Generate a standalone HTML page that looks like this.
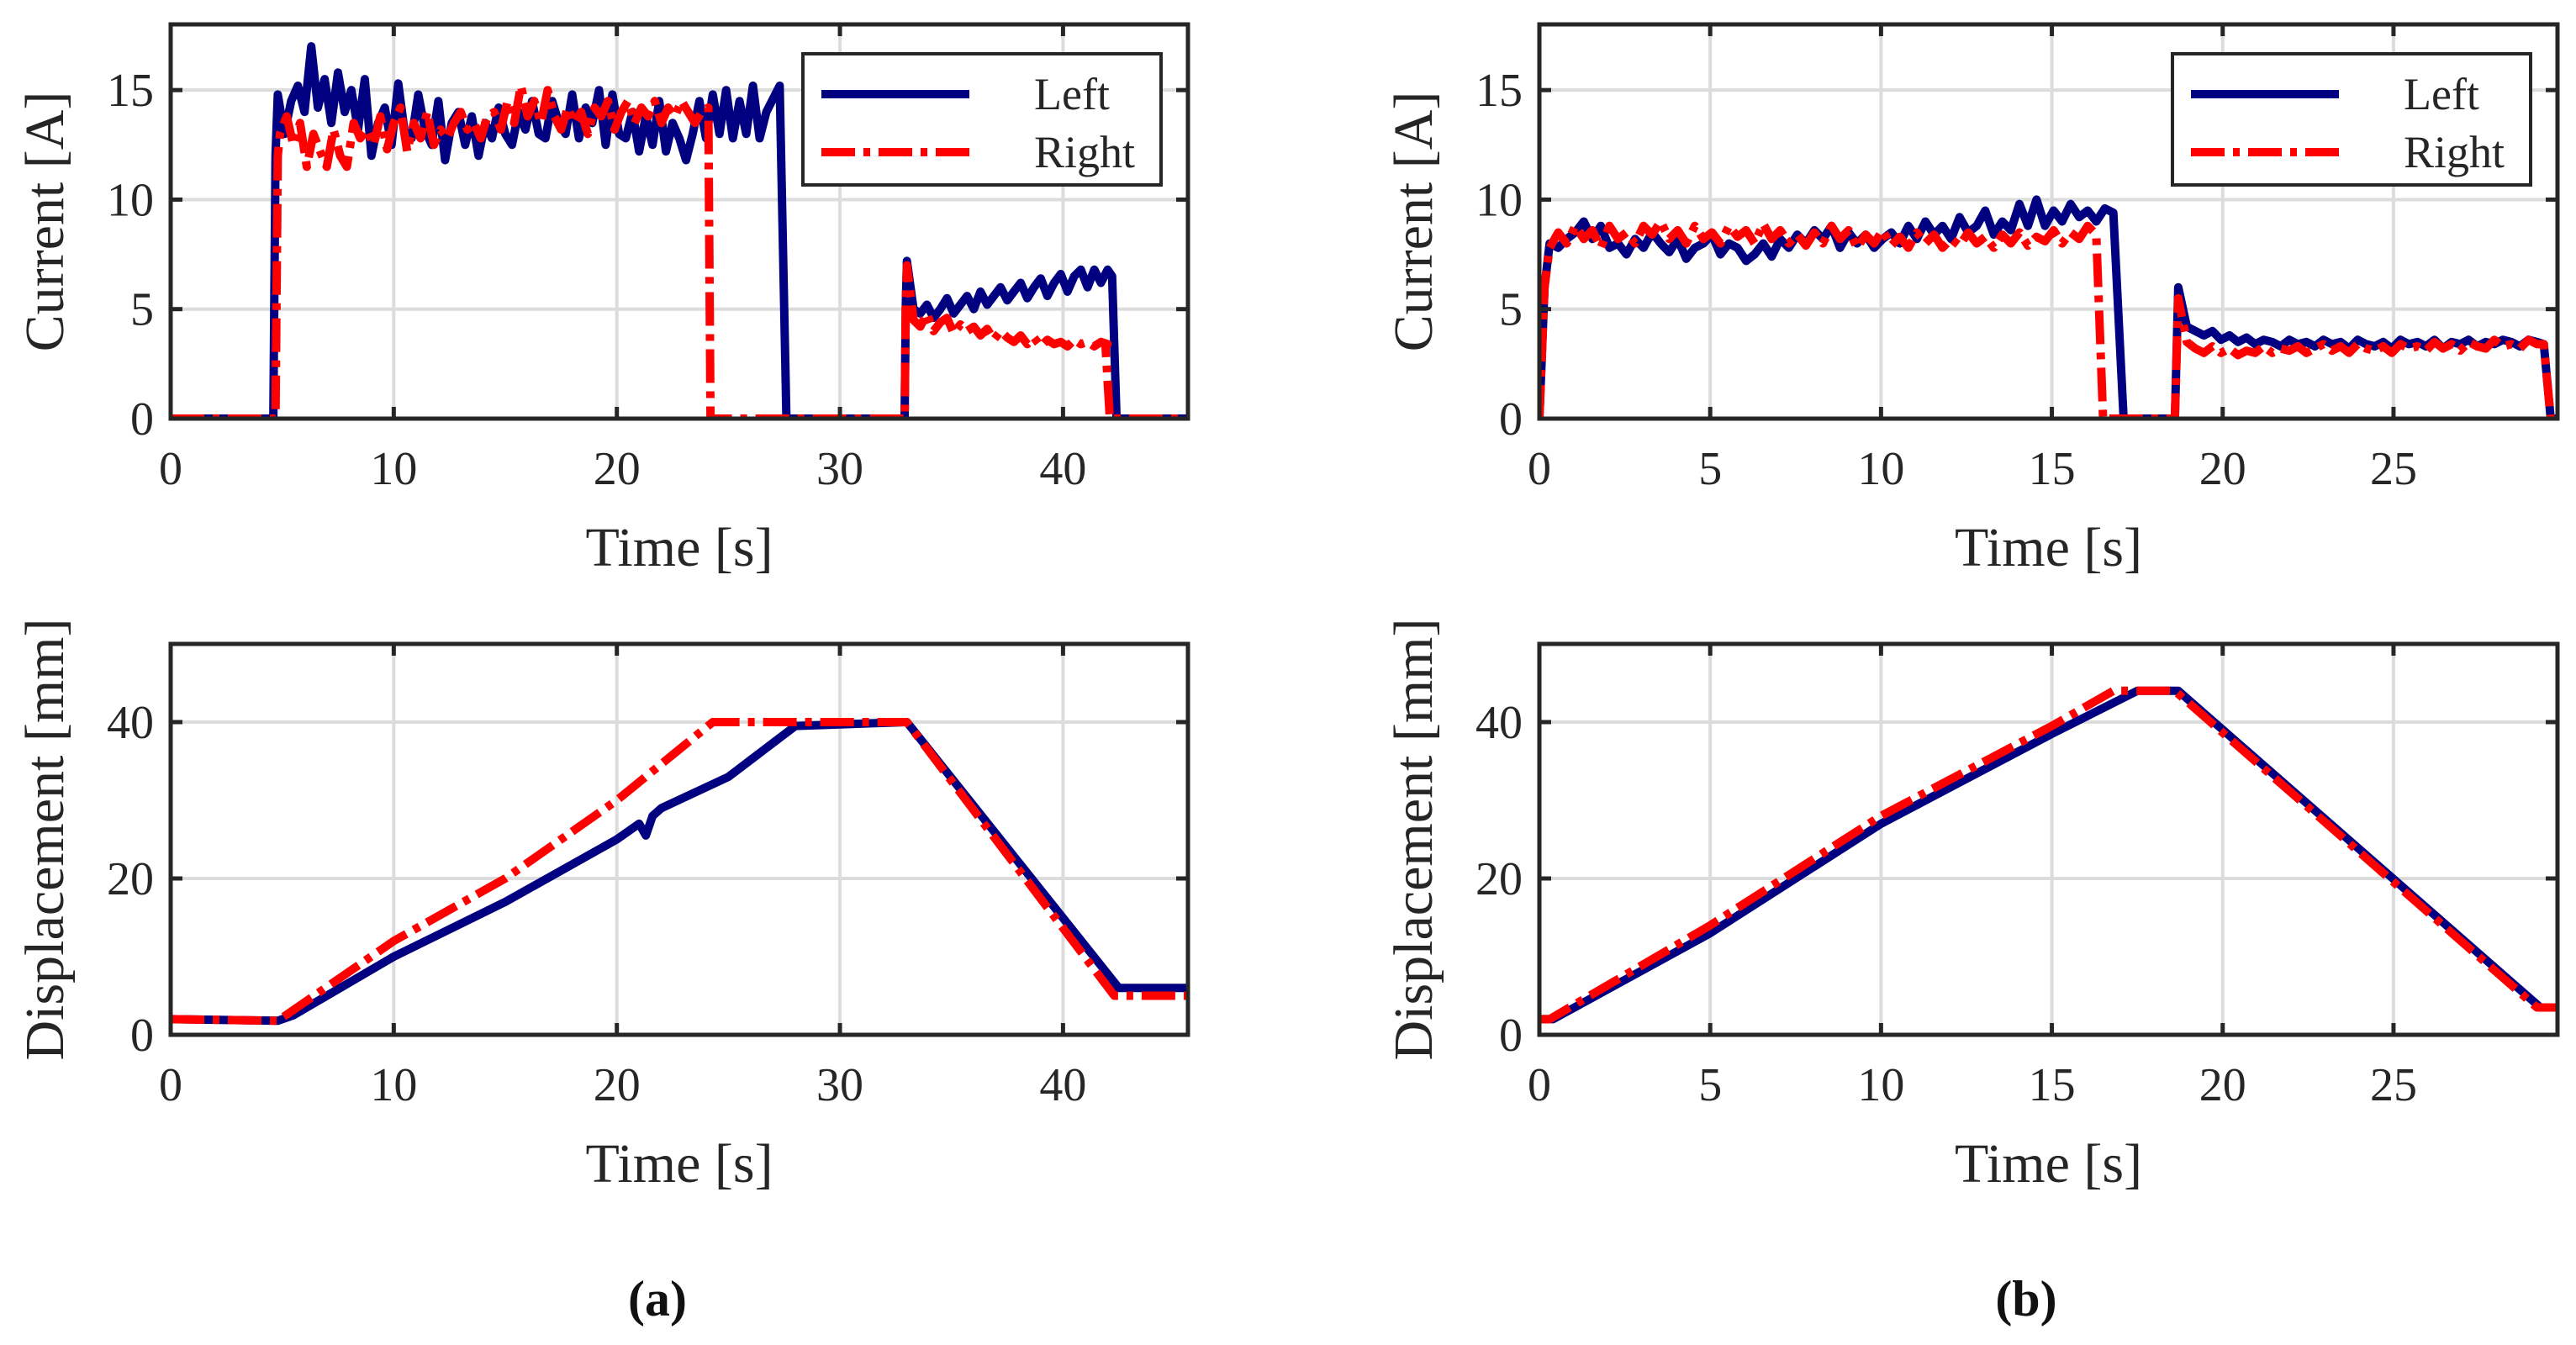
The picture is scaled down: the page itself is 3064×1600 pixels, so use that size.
<!DOCTYPE html>
<html><head><meta charset="utf-8"><style>
html,body{margin:0;padding:0;background:#fff;}
svg{display:block;font-family:"Liberation Serif",serif;}
</style></head><body>
<svg id="fig" width="3064" height="1600" viewBox="0 0 3064 1600" xmlns="http://www.w3.org/2000/svg"></svg>
<script>
// ---- data ----
const aCurLeft1 = [14.8,13.0,14.5,15.2,14.0,17.0,14.2,15.5,13.5,15.8,14.0,15.0,13.2,15.5,12.0,13.5,14.2,12.5,15.3,13.0,12.8,14.8,13.2,12.5,14.5,11.8,13.5,14.0,12.5,13.8,12.0,13.5,12.8,14.2,13.0,12.5,14.0,13.2,14.5,13.0,12.8,14.5,13.5,13.0,14.8,12.8,14.2,13.5,15.0,12.5,14.8,13.0,12.8,14.0,12.2,13.8,12.5,14.5,12.2,13.5,12.8,11.8,13.0,14.5,12.8,14.8,13.0,15.0,12.8,14.5,13.0,15.2,12.8,14.0];
const aCurRight1 = [13.0,13.8,12.5,13.5,11.5,13.0,12.2,11.5,13.2,12.0,11.5,13.5,12.8,13.2,12.5,13.8,12.3,13.5,14.2,12.2,13.5,12.8,14.0,12.5,13.2,12.8,13.5,14.0,13.2,13.5,12.8,13.8,14.0,13.2,14.5,13.5,15.2,13.8,14.5,13.5,15.0,13.8,13.2,14.2,13.5,14.0,13.0,14.2,13.8,14.5,13.2,14.0,14.5,13.5,14.2,13.8,14.5,13.5,14.2,13.8,14.5,14.0,13.5,14.0,14.2];
const aCurLeft2 = [7.2,5.0,4.8,5.2,4.6,5.0,5.5,4.8,5.2,5.6,5.0,5.8,5.2,5.6,6.0,5.4,5.8,6.2,5.5,6.0,6.4,5.6,6.2,6.6,5.8,6.5,6.8,6.0,6.8,6.2,6.8];
const aCurRight2 = [7.0,4.5,4.2,4.8,4.0,4.4,4.6,3.9,4.3,4.0,4.2,3.8,4.1,3.6,4.0,3.7,3.5,3.8,3.4,3.7,3.3,3.6,3.4,3.5,3.3,3.6,3.4,3.5,3.3,3.5,3.4];
const bCurLeft1 = [8.0,7.8,8.2,8.5,9.0,8.2,8.8,7.8,8.0,7.5,8.2,7.8,8.5,8.0,7.6,8.2,7.3,7.8,8.0,8.4,7.5,8.0,7.8,7.2,7.5,8.0,7.4,8.2,7.8,8.4,8.0,8.6,8.2,8.8,7.8,8.5,8.0,8.4,7.8,8.2,8.5,8.0,8.8,8.2,9.0,8.4,8.8,8.2,9.2,8.5,8.8,9.5,8.4,9.0,8.6,9.8,8.8,10.0,8.8,9.5,9.0,9.8,9.2,9.5,9.0,9.6,9.4];
const bCurRight1 = [7.8,8.5,8.0,8.8,8.2,8.6,7.8,8.8,8.2,8.5,8.0,8.8,8.4,9.0,8.2,8.6,8.0,8.8,8.2,8.5,8.0,8.8,8.3,8.6,8.0,8.9,8.2,8.6,8.0,8.4,7.9,8.5,8.0,8.8,8.2,8.6,7.8,8.4,8.0,8.6,7.9,8.3,7.8,8.5,8.0,8.4,7.8,8.2,7.9,8.5,8.0,8.3,7.8,8.4,8.0,8.5,7.9,8.3,8.1,8.6,8.0,8.5,8.2,8.8,8.4];
const bCurLeft2 = [6.0,4.2,4.0,3.8,4.0,3.6,3.8,3.5,3.7,3.4,3.6,3.5,3.3,3.6,3.4,3.5,3.3,3.6,3.4,3.5,3.2,3.6,3.4,3.3,3.5,3.2,3.6,3.4,3.5,3.3,3.6,3.2,3.5,3.4,3.6,3.3,3.5,3.4,3.6,3.5,3.3,3.6,3.5];
const bCurRight2 = [5.5,3.5,3.2,3.0,3.3,3.0,3.2,2.9,3.1,3.0,3.3,3.0,3.2,3.1,3.3,3.0,3.2,3.4,3.1,3.3,3.0,3.4,3.2,3.1,3.3,3.0,3.4,3.2,3.3,3.1,3.5,3.2,3.4,3.1,3.5,3.3,3.2,3.6,3.3,3.4,3.2,3.6,3.4];
const aDispLeftT = [0,4.8,5.5,10,15,20,21,21.3,21.6,22,25,28,33,42.5,45.6];
const aDispLeftV = [2,1.8,2.5,10,17,25,27,25.5,28,29,33,39.5,40,6,6];
const aDispRightT = [0,4.8,10,15,20,24.3,33,42.3,45.6];
const aDispRightV = [2,1.8,12,20,30,40,40,5,5];
const bDispLeftT = [0,0.4,5,10,15,17.5,18.7,29.3,29.8];
const bDispLeftV = [2,2,13,27,38.5,44,44,3.5,3.5];
const bDispRightT = [0,0.3,5,10,15,16.8,18.6,29.2,29.8];
const bDispRightV = [2,2,14,28,39.5,44,44,3.5,3.5];
const aXTicks = [0,10,20,30,40];
const bXTicks = [0,5,10,15,20,25];
const curYTicks = [0,5,10,15];
const dispYTicks = [0,20,40];

const NS = "http://www.w3.org/2000/svg";
const svg = document.getElementById('fig');
function el(tag, attrs, parent){const e=document.createElementNS(NS,tag);for(const k in attrs)e.setAttribute(k,attrs[k]);(parent||svg).appendChild(e);return e;}

function seg(t0,dt,vals){return vals.map((v,i)=>[t0+i*dt,v]);}
function pairs(ts,vs){return ts.map((t,i)=>[t,vs[i]]);}

let clipId=0;
function panel(name,L,R,T,B,xmax,ymax,xt,yt,series,ylabel,legend){
  const g=el('g',{});
  
  
  const sx=v=>L+(v/xmax)*(R-L), sy=v=>B-(v/ymax)*(B-T);
  xt.forEach(v=>{const l=el('line',{x1:sx(v),x2:sx(v),y1:T,y2:B,stroke:'#dcdcdc','stroke-width':4},g);});
  yt.forEach(v=>{const l=el('line',{x1:L,x2:R,y1:sy(v),y2:sy(v),stroke:'#dcdcdc','stroke-width':4},g);});
  const cid='c'+(clipId++);
  const cp=el('clipPath',{id:cid},g);el('rect',{x:L,y:T-6,width:R-L,height:B-T+6},cp);
  series.forEach(s=>{
    const d=s.pts.map((p,i)=>(i?'L':'M')+sx(p[0]).toFixed(1)+','+sy(p[1]).toFixed(1)).join('');
    const p=el('path',{d:d,fill:'none',stroke:s.color,'stroke-width':10,'stroke-linejoin':'round','clip-path':'url(#'+cid+')'},g);
    if(s.dash)p.setAttribute('stroke-dasharray',s.dash);
    
    
  });
  const box=el('rect',{x:L,y:T,width:R-L,height:B-T,fill:'none',stroke:'#262626','stroke-width':5},g);
  
  xt.forEach(v=>{
    el('line',{x1:sx(v),x2:sx(v),y1:B,y2:B-14,stroke:'#262626','stroke-width':5},g);
    el('line',{x1:sx(v),x2:sx(v),y1:T,y2:T+14,stroke:'#262626','stroke-width':5},g);
    const t=el('text',{x:sx(v),y:B+78,'font-size':56,'text-anchor':'middle',fill:'#262626'},g);t.textContent=v;
    
  });
  yt.forEach(v=>{
    el('line',{x1:L,x2:L+14,y1:sy(v),y2:sy(v),stroke:'#262626','stroke-width':5},g);
    el('line',{x1:R,x2:R-14,y1:sy(v),y2:sy(v),stroke:'#262626','stroke-width':5},g);
    const t=el('text',{x:L-20,y:sy(v)+19,'font-size':56,'text-anchor':'end',fill:'#262626'},g);t.textContent=v;
    
  });
  const xl=el('text',{x:(L+R)/2,y:B+175,'font-size':66,'text-anchor':'middle',fill:'#262626'},g);xl.textContent='Time [s]';
  
  const ycx=L-128, ycy=(T+B)/2;
  const yl=el('text',{x:ycx,y:ycy,'font-size':66,'text-anchor':'middle',fill:'#262626',transform:'rotate(-90 '+ycx+' '+ycy+')'},g);yl.textContent=ylabel;
  
  if(legend){
    const lx=R-458, ly=T+35;
    const lg=el('g',{},g);
    el('rect',{x:lx,y:ly,width:426,height:156,fill:'#fff',stroke:'#262626','stroke-width':4},lg);
    [['Left','#000080',null,ly+48],['Right','#ff0000','40,10,8,10',ly+117]].forEach(e=>{
      const ln=el('line',{x1:lx+22,x2:lx+198,y1:e[3],y2:e[3],stroke:e[1],'stroke-width':10},lg);
      if(e[2])ln.setAttribute('stroke-dasharray',e[2]);
      
      const tx=el('text',{x:lx+275,y:e[3]+18,'font-size':54,'text-anchor':'start',fill:'#262626'},lg);tx.textContent=e[0];
      
    });
  }
}
const BLUE='#000080', RED='#ff0000', DASH='40,10,8,10';
panel('panel-a-current',203,1413,29,498,45.6,18,aXTicks,curYTicks,[
  {name:'left-current-a',color:BLUE,pts:[[0,0],[4.6,0],[4.7,12]].concat(seg(4.8,0.3,aCurLeft1),[[27.3,15.2],[27.6,0],[32.9,0],[32.95,5]],seg(33.0,0.3,aCurLeft2),[[42.2,6.5],[42.4,0],[45.6,0]])},
  {name:'right-current-a',color:RED,dash:DASH,pts:[[0,0],[4.7,0],[4.8,12]].concat(seg(4.9,0.3,aCurRight1),[[24.2,0],[32.9,0],[32.95,5]],seg(33.0,0.3,aCurRight2),[[41.9,3.4],[42.1,0],[45.6,0]])}
],'Current [A]',true);
panel('panel-a-displacement',203,1413,766,1231,45.6,50,aXTicks,dispYTicks,[
  {name:'left-displacement-a',color:BLUE,pts:pairs(aDispLeftT,aDispLeftV)},
  {name:'right-displacement-a',color:RED,dash:DASH,pts:pairs(aDispRightT,aDispRightV)}
],'Displacement [mm]',false);
panel('panel-b-current',1831,3042,29,498,29.8,18,bXTicks,curYTicks,[
  {name:'left-current-b',color:BLUE,pts:[[0,0],[0.15,6]].concat(seg(0.3,0.25,bCurLeft1),[[17.1,0],[18.6,0]],seg(18.7,0.25,bCurLeft2),[[29.4,3.4],[29.6,0],[29.8,0]])},
  {name:'right-current-b',color:RED,dash:DASH,pts:[[0,0],[0.15,6]].concat(seg(0.3,0.25,bCurRight1),[[16.5,0],[18.6,0]],seg(18.7,0.25,bCurRight2),[[29.4,3.4],[29.6,0],[29.8,0]])}
],'Current [A]',true);
panel('panel-b-displacement',1831,3042,766,1231,29.8,50,bXTicks,dispYTicks,[
  {name:'left-displacement-b',color:BLUE,pts:pairs(bDispLeftT,bDispLeftV)},
  {name:'right-displacement-b',color:RED,dash:DASH,pts:pairs(bDispRightT,bDispRightV)}
],'Displacement [mm]',false);
const ca=el('text',{x:782,y:1565,'font-size':60,'font-weight':'bold','text-anchor':'middle',fill:'#111'});ca.textContent='(a)';

const cb=el('text',{x:2410,y:1565,'font-size':60,'font-weight':'bold','text-anchor':'middle',fill:'#111'});cb.textContent='(b)';

</script>
</body></html>
